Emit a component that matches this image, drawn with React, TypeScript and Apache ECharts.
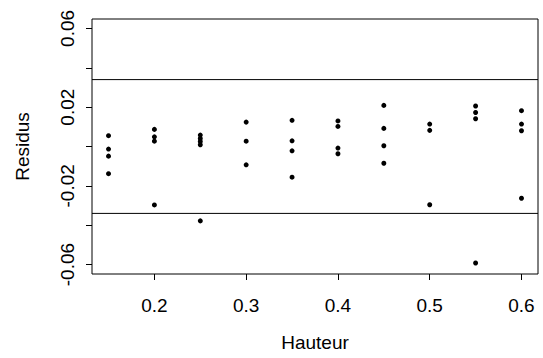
import React, { useEffect, useRef } from "react";
import * as echarts from "echarts";

const hauteur = [
  0.15, 0.15, 0.15, 0.15,
  0.2, 0.2, 0.2, 0.2,
  0.25, 0.25, 0.25, 0.25, 0.25,
  0.3, 0.3, 0.3,
  0.35, 0.35, 0.35, 0.35,
  0.4, 0.4, 0.4, 0.4,
  0.45, 0.45, 0.45, 0.45,
  0.5, 0.5, 0.5,
  0.55, 0.55, 0.55, 0.55,
  0.6, 0.6, 0.6, 0.6,
];
const residus = [
  0.0055, -0.0013, -0.0049, -0.0138,
  0.0087, 0.0049, 0.0027, -0.0297,
  0.0058, 0.0041, 0.0026, 0.0009, -0.0378,
  0.0124, 0.0027, -0.0093,
  0.0133, 0.0029, -0.0022, -0.0156,
  0.013, 0.0102, -0.0008, -0.0037,
  0.0209, 0.0092, 0.0004, -0.0085,
  0.0114, 0.0082, -0.0296,
  0.0206, 0.0173, 0.0141, -0.0592,
  0.0182, 0.0114, 0.008, -0.0263,
];
const limites = [0.034, -0.034];
const xRange = [0.132, 0.618];
const yRange = [-0.0648, 0.0648];
const xTicks = [0.2, 0.3, 0.4, 0.5, 0.6];
const yTicks = [-0.06, -0.04, -0.02, 0, 0.02, 0.04, 0.06];
const yLabels = [-0.06, -0.02, 0.02, 0.06];

const FONT = "'Liberation Sans', Arial, sans-serif";

export default function App() {
  const ref = useRef<HTMLDivElement>(null);
  useEffect(() => {
    if (!ref.current) return;
    const chart = echarts.init(ref.current, null, { renderer: "svg" });
    chart.setOption({
      animation: false,
      backgroundColor: "#fff",
      grid: {
        left: 92,
        right: 5,
        top: 19,
        bottom: 84,
        show: true,
        borderColor: "#000",
        borderWidth: 1,
        backgroundColor: "transparent",
      },
      xAxis: {
        type: "value",
        min: xRange[0],
        max: xRange[1],
        name: "Hauteur",
        nameLocation: "middle",
        nameGap: 59,
        nameTextStyle: { fontFamily: FONT, fontSize: 19, color: "#000" },
        axisLine: { show: false, onZero: false },
        splitLine: { show: false },
        axisTick: {
          show: true,
          length: 6,
          lineStyle: { color: "#000" },
          customValues: xTicks,
        },
        axisLabel: {
          fontFamily: FONT,
          fontSize: 19,
          color: "#000",
          margin: 22,
          customValues: xTicks,
          formatter: (v: number) => String(Math.round(v * 10) / 10),
        },
      },
      yAxis: {
        type: "value",
        min: yRange[0],
        max: yRange[1],
        name: "Residus",
        nameLocation: "middle",
        nameGap: 60,
        nameTextStyle: { fontFamily: FONT, fontSize: 19, color: "#000" },
        axisLine: { show: false, onZero: false },
        splitLine: { show: false },
        axisTick: {
          show: true,
          length: 6,
          lineStyle: { color: "#000" },
          customValues: yTicks,
        },
        axisLabel: {
          fontFamily: FONT,
          fontSize: 19,
          color: "#000",
          rotate: 90,
          margin: 15,
          customValues: yLabels,
          formatter: (v: number) => (Math.round(v * 100) / 100).toFixed(2),
        },
      },
      series: [
        ...limites.map((y) => ({
          type: "line",
          data: [
            [xRange[0], y],
            [xRange[1], y],
          ],
          symbol: "none",
          silent: true,
          lineStyle: { color: "#000", width: 1 },
        })),
        {
          type: "scatter",
          data: hauteur.map((h, i) => [h, residus[i]]),
          symbol: "circle",
          symbolSize: 5,
          itemStyle: { color: "#000", opacity: 1 },
        },
      ],
    });
    return () => chart.dispose();
  }, []);
  return (
    <div
      ref={ref}
      style={{ position: "fixed", left: 0, top: 0, width: 543, height: 358 }}
    />
  );
}
